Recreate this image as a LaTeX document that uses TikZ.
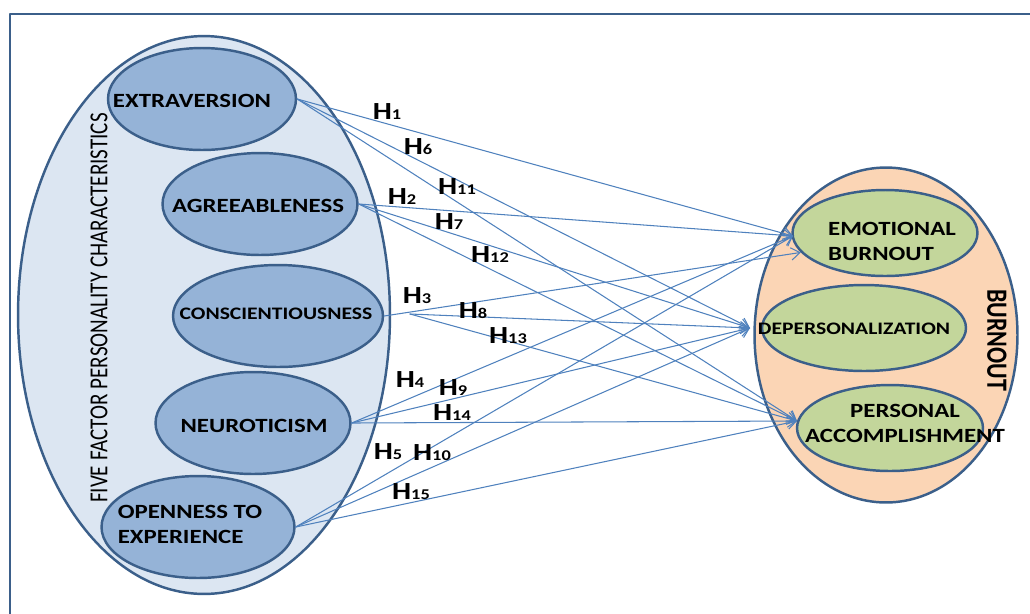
\documentclass[tikz,border=0pt]{standalone}
\usepackage{fontspec}
\setmainfont{Carlito}[FakeStretch=1.23]
\newfontfamily\plainfont{Carlito}
\usetikzlibrary{shapes.geometric,arrows.meta}
\definecolor{edge}{HTML}{3B5F8A}
\definecolor{outerblue}{HTML}{DCE6F2}
\definecolor{traitblue}{HTML}{95B3D7}
\definecolor{peach}{HTML}{FBD5B5}
\definecolor{sage}{HTML}{C3D69B}
\definecolor{linkblue}{HTML}{4F81BD}
\newcommand{\hlab}[1]{H{\fontsize{8.5}{8.5}\selectfont #1}}

\begin{document}
\begin{tikzpicture}[x=0.02cm,y=-0.02cm,line join=round,line cap=round,>={Straight Barb[length=5pt,width=7pt]},
  blob/.style={ellipse,draw=edge,line width=1.4pt,inner sep=0pt},
  trait/.style={blob,fill=traitblue,minimum height=2.04cm},
  dim/.style={blob,fill=sage,minimum height=1.72cm},
  txt/.style={font=\fontsize{11.5}{14.2}\selectfont\bfseries,align=left,inner sep=0pt},
  small/.style={font=\fontsize{10}{12}\selectfont\bfseries},
  hyp/.style={font=\fontsize{14}{14}\selectfont\bfseries,inner sep=0pt},
  hline/.style={->,draw=linkblue,line width=0.6pt}]
\useasboundingbox (0,0) rectangle (1030,613);
\draw[edge,line width=1.5pt] (10,620) -- (10,14) -- (1040,14);

% the two groups
\node[blob,fill=outerblue,minimum width=7.44cm,minimum height=11.16cm] (ffp) at (204,315) {};
\node[blob,fill=peach,minimum width=5.26cm,minimum height=6.7cm] (bo) at (886,335) {};

% personality traits
\node[trait,minimum width=3.76cm] (ext) at (202,99) {};
\node[trait,minimum width=3.9cm] (agr) at (260,204) {};
\node[trait,minimum width=4.2cm] (con) at (278,316) {};
\node[trait,minimum width=3.9cm] (neu) at (253,423) {};
\node[trait,minimum width=3.86cm] (opn) at (198,527) {};

% burnout dimensions
\node[dim,minimum width=3.7cm] (eb) at (885,233) {};
\node[dim,minimum width=4.08cm] (dp) at (864,328) {};
\node[dim,minimum width=3.72cm] (pa) at (890,428) {};

\coordinate (ebin) at (793,236);
\coordinate (dpin) at (750,328);
\coordinate (pain) at (797,421);
\coordinate (con2) at (410,314);

% hypotheses
\foreach \src in {ext,agr,neu,opn}
  \foreach \dst in {ebin,dpin,pain}
    \draw[hline] (\src.east) -- (\dst);
\draw[hline] (con.east) -- (eb.193);
\draw[hline] (con2) -- (dpin);
\draw[hline] (con2) -- (pain);

\node[txt] (ext-t) at (192,100.5) {EXTRAVERSION};
\node[txt] (agr-t) at (258,205.5) {AGREEABLENESS};
\node[txt,small] (con-t) at (276,314) {CONSCIENTIOUSNESS};
\node[txt] (neu-t) at (254,425.5) {NEUROTICISM};
\node[txt] (opn-t) at (190,524) {OPENNESS TO\\EXPERIENCE};
\node[txt] (eb-t) at (892,241) {EMOTIONAL\\BURNOUT};
\node[txt,small] (dp-t) at (854,329) {DEPERSONALIZATION};
\node[txt,align=center] (pa-t) at (905,423) {PERSONAL\\ACCOMPLISHMENT};
\node[rotate=90,inner sep=0pt,font=\fontsize{12}{12}\selectfont\plainfont] (ffp-t) at (99,308)
  {\scalebox{1}[1.23]{FIVE FACTOR PERSONALITY CHARACTERISTICS}};
\node[rotate=-90,inner sep=0pt,font=\fontsize{13.6}{14}\selectfont\plainfont\bfseries] (bo-t) at (997,340)
  {\scalebox{1}[1.23]{BURNOUT}};

\node[hyp] (h1) at (387,112) {\hlab{1}};
\node[hyp] (h6) at (418,147) {\hlab{6}};
\node[hyp] (h11) at (457,187) {\hlab{11}};
\node[hyp] (h2) at (402,197) {\hlab{2}};
\node[hyp] (h7) at (449,222) {\hlab{7}};
\node[hyp] (h12) at (490,255) {\hlab{12}};
\node[hyp] (h3) at (417,296) {\hlab{3}};
\node[hyp] (h8) at (473,311) {\hlab{8}};
\node[hyp] (h13) at (508,336) {\hlab{13}};
\node[hyp] (h4) at (410,380) {\hlab{4}};
\node[hyp] (h9) at (453,388) {\hlab{9}};
\node[hyp] (h14) at (452,413) {\hlab{14}};
\node[hyp] (h5) at (388,452) {\hlab{5}};
\node[hyp] (h10) at (432,453) {\hlab{10}};
\node[hyp] (h15) at (411,492) {\hlab{15}};
\end{tikzpicture}
\end{document}
